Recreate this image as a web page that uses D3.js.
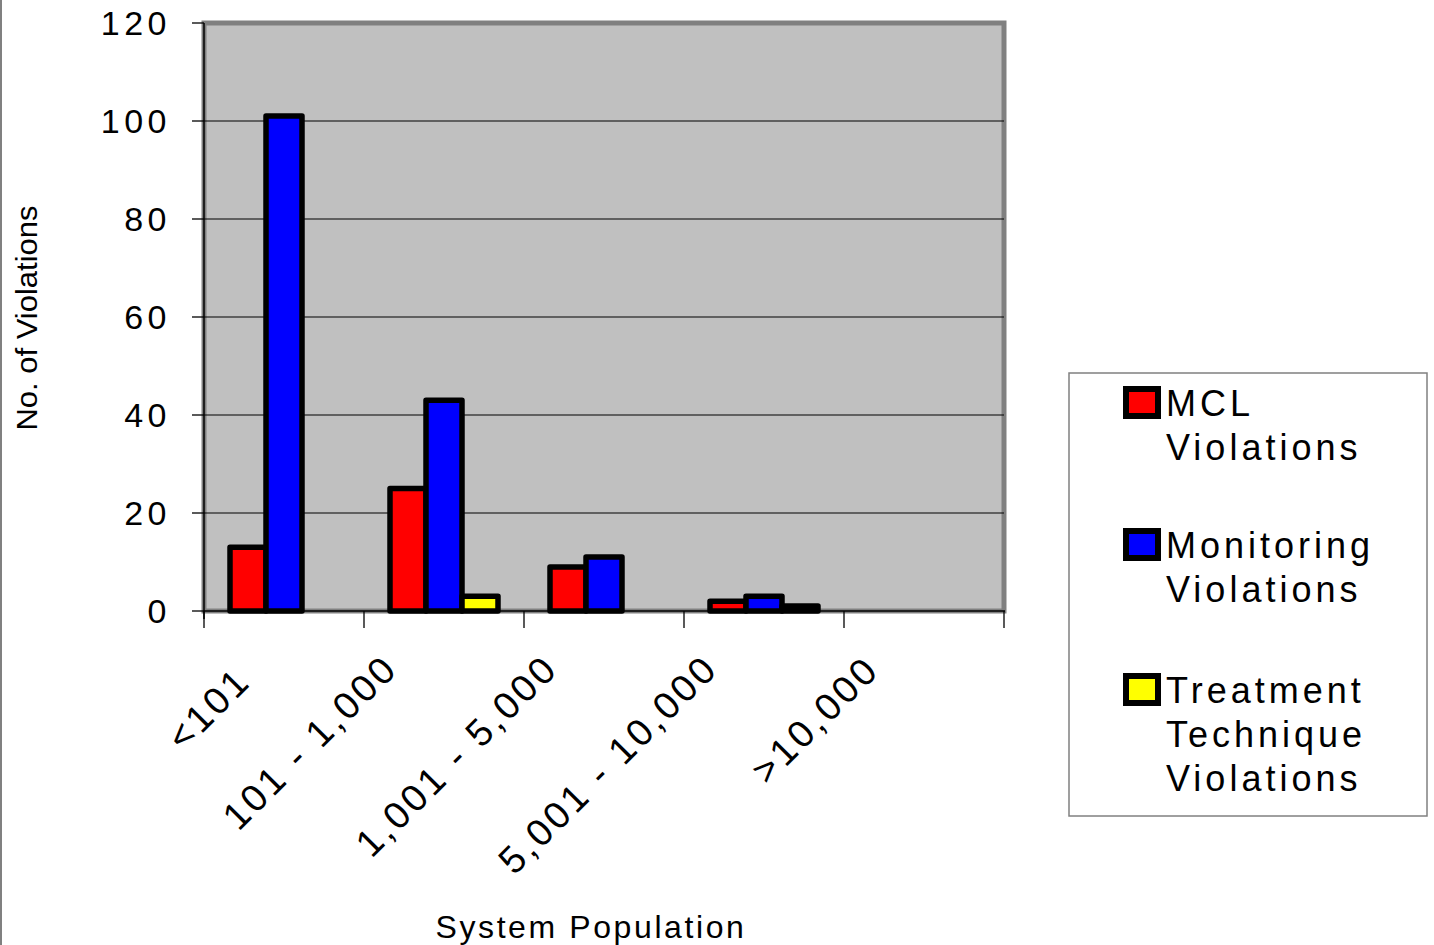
<!DOCTYPE html>
<html><head><meta charset="utf-8">
<script src="https://cdn.jsdelivr.net/npm/d3@7"></script>
<style>
body{margin:0;background:#fff}
svg{display:block}
text{font-family:"Liberation Sans",Arial,sans-serif;fill:#000}
</style>
</head><body><svg id="c" width="1434" height="945"></svg>
<script>
const categories = ["<101", "101 - 1,000", "1,001 - 5,000", "5,001 - 10,000", ">10,000"];
const seriesNames = ["MCL Violations", "Monitoring Violations", "Treatment Technique Violations"];
const mclValues = [13, 25, 9, 2, 0];
const monitoringValues = [101, 43, 11, 3, 0];
const treatmentValues = [0, 3, 0, 1, 0];
const seriesColors = ["#FF0000", "#0000FF", "#FFFF00"];
const legendLines = [["MCL", "Violations"], ["Monitoring", "Violations"], ["Treatment", "Technique", "Violations"]];
const yTicks = [0, 20, 40, 60, 80, 100, 120];
const yTitle = "No. of Violations";
const xTitle = "System Population";

const seriesValues = [mclValues, monitoringValues, treatmentValues];
const svg = d3.select("#c");

// chart outer left border
svg.append("line").attr("x1", 1).attr("x2", 1).attr("y1", 0).attr("y2", 945)
  .attr("stroke", "#808080").attr("stroke-width", 2);

const plot = {left: 204, right: 1004, top: 23, bottom: 611};
const y = d3.scaleLinear().domain([0, 120]).range([plot.bottom, plot.top]);
const x0 = d3.scaleBand().domain(categories).range([plot.left, plot.right]).padding(0);
const x1 = d3.scaleBand().domain(d3.range(seriesNames.length)).range([26, 134]).padding(0);

// plot background + frame
svg.append("rect").attr("x", plot.left).attr("y", plot.top)
  .attr("width", plot.right - plot.left).attr("height", plot.bottom - plot.top)
  .attr("fill", "#C0C0C0").attr("stroke", "#808080").attr("stroke-width", 5);

// gridlines
svg.append("g").selectAll("line").data(yTicks.filter(t => t > 0 && t < 120)).join("line")
  .attr("x1", plot.left).attr("x2", plot.right)
  .attr("y1", d => y(d)).attr("y2", d => y(d))
  .attr("stroke", "#000").attr("stroke-width", 1.2);

// bars
const barData = [];
categories.forEach((c, ci) => seriesValues.forEach((vals, si) => {
  if (vals[ci] > 0) barData.push({c, si, v: vals[ci]});
}));
svg.append("g").selectAll("rect").data(barData).join("rect")
  .attr("x", d => x0(d.c) + x1(d.si))
  .attr("y", d => y(d.v))
  .attr("width", x1.bandwidth())
  .attr("height", d => y(0) - y(d.v))
  .attr("fill", d => seriesColors[d.si])
  .attr("stroke", "#000").attr("stroke-width", 5.5).attr("stroke-linejoin", "round");

// axes lines
svg.append("line").attr("x1", plot.left).attr("x2", plot.right + 1).attr("y1", plot.bottom).attr("y2", plot.bottom)
  .attr("stroke", "#000").attr("stroke-width", 1.5);
svg.append("line").attr("x1", plot.left).attr("x2", plot.left).attr("y1", plot.top).attr("y2", plot.bottom + 8)
  .attr("stroke", "#000").attr("stroke-width", 1.5);

// y ticks
const yAxis = svg.append("g");
yAxis.selectAll("line").data(yTicks).join("line")
  .attr("x1", 192).attr("x2", plot.left).attr("y1", d => y(d)).attr("y2", d => y(d))
  .attr("stroke", "#000").attr("stroke-width", 1.3);
yAxis.selectAll("text").data(yTicks).join("text")
  .attr("x", 171).attr("y", d => y(d)).attr("dy", "0.36em")
  .attr("text-anchor", "end").attr("font-size", 34).attr("letter-spacing", 4.5)
  .text(d => d);

// x ticks at category boundaries
const xBounds = categories.map(c => x0(c)).concat([plot.right]);
svg.append("g").selectAll("line").data(xBounds).join("line")
  .attr("x1", d => d).attr("x2", d => d).attr("y1", plot.bottom).attr("y2", plot.bottom + 17)
  .attr("stroke", "#000").attr("stroke-width", 1.3);

// x labels rotated -45
const s = Math.SQRT1_2;
svg.append("g").selectAll("text").data(categories).join("text")
  .attr("transform", d => {
    const cx = x0(d) + x0.bandwidth() / 2;
    const along = -73, perp = Math.max(11, 50 - 5.3 * d.length);
    const ax = cx + along * s + perp * s;
    const ay = plot.bottom - along * s + perp * s;
    return `translate(${ax},${ay}) rotate(-45)`;
  })
  .attr("text-anchor", "end").attr("font-size", 38).attr("letter-spacing", 3.3)
  .text(d => d);

// axis titles
svg.append("text").attr("transform", "translate(37,318) rotate(-90)")
  .attr("text-anchor", "middle").attr("font-size", 29)
  .attr("textLength", 225).attr("lengthAdjust", "spacingAndGlyphs")
  .text(yTitle);
svg.append("text").attr("x", 591).attr("y", 938)
  .attr("text-anchor", "middle").attr("font-size", 32).attr("letter-spacing", 2.6)
  .text(xTitle);

// legend
const lg = svg.append("g");
lg.append("rect").attr("x", 1069).attr("y", 373).attr("width", 358).attr("height", 443)
  .attr("fill", "#fff").attr("stroke", "#808080").attr("stroke-width", 1.5);
const legendBase = [416, 558, 703];
const items = lg.selectAll("g.item").data(seriesNames).join("g").attr("class", "item")
  .attr("transform", (d, i) => `translate(0,${legendBase[i]})`);
items.append("rect").attr("x", 1126).attr("y", -27).attr("width", 32).attr("height", 27)
  .attr("fill", (d, i) => seriesColors[i]).attr("stroke", "#000").attr("stroke-width", 6);
items.each(function(d, i) {
  d3.select(this).selectAll("text").data(legendLines[i]).join("text")
    .attr("x", 1166).attr("y", (t, j) => j * 44)
    .attr("font-size", 36).attr("letter-spacing", 4)
    .text(t => t);
});
</script>
</body></html>
